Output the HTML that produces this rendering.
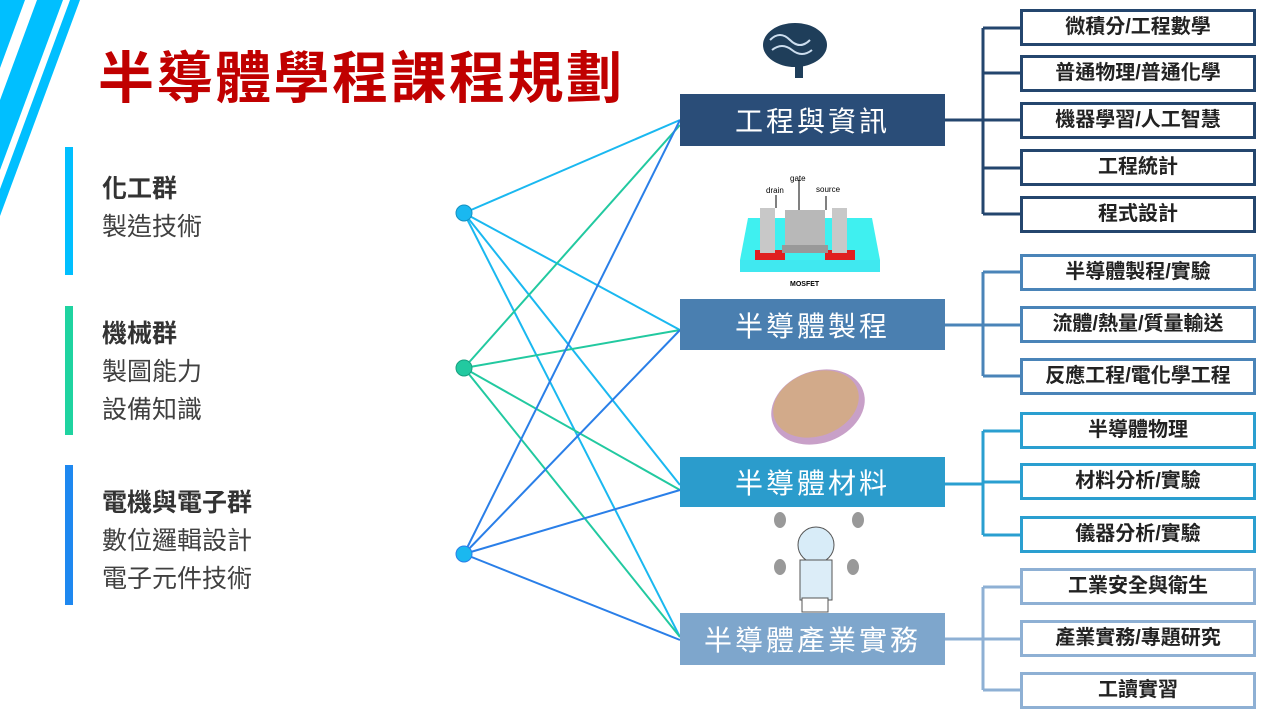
<!DOCTYPE html>
<html><head><meta charset="utf-8"><style>
body{margin:0;width:1280px;height:720px;overflow:hidden;background:#fff;font-family:"Liberation Sans","Noto Sans CJK TC",sans-serif;position:relative}
.t{position:absolute;left:98px;top:46px;font-size:56px;font-weight:bold;color:#c00000;letter-spacing:2.5px;line-height:66px}
.bar{position:absolute;left:65px;width:8px}
.lt{position:absolute;left:102px;font-size:25px;color:#404040;line-height:38px}
.lt b{font-weight:bold;color:#333}
.mb{position:absolute;left:680px;width:265px;color:#fff;font-size:28px;text-align:center;display:flex;align-items:center;justify-content:center;letter-spacing:3px}
.rb{position:absolute;left:1020px;width:230px;height:31px;background:#fff;border:3px solid;font-size:20px;font-weight:bold;color:#222;text-align:center;line-height:31px}
</style></head><body>
<svg width="1280" height="720" style="position:absolute;left:0;top:0">
<polygon points="0,0 25,0 0,68" fill="#00bfff"/>
<polygon points="37,0 63,0 0,170 0,100" fill="#00bfff"/>
<polygon points="70,0 80,0 0,216 0,189" fill="#00bfff"/>
<g stroke-width="2" fill="none">
<g stroke="#1ab8f0"><line x1="464" y1="213" x2="680" y2="120"/><line x1="464" y1="213" x2="680" y2="330"/><line x1="464" y1="213" x2="680" y2="485"/><line x1="464" y1="213" x2="680" y2="637"/></g>
<g stroke="#22c9a0"><line x1="464" y1="368" x2="680" y2="125"/><line x1="464" y1="368" x2="680" y2="330"/><line x1="464" y1="368" x2="680" y2="490"/><line x1="464" y1="368" x2="680" y2="637"/></g>
<g stroke="#2a7fe8"><line x1="464" y1="554" x2="680" y2="120"/><line x1="464" y1="554" x2="680" y2="330"/><line x1="464" y1="554" x2="680" y2="490"/><line x1="464" y1="554" x2="680" y2="640"/></g>
</g>
<circle cx="464" cy="213" r="8" fill="#1ab8f0" stroke="#1590c0"/>
<circle cx="464" cy="368" r="8" fill="#22c9a0" stroke="#18a080"/>
<circle cx="464" cy="554" r="8" fill="#1ab8f0" stroke="#2a7fe8"/>
<g stroke-width="3" fill="none">
<path d="M945 120H983M983 28V214M983 28H1020M983 73H1020M983 120H1020M983 168H1020M983 214H1020" stroke="#24466e"/>
<path d="M945 325H983M983 272V376M983 272H1020M983 325H1020M983 376H1020" stroke="#4a84b8"/>
<path d="M945 484H983M983 431V535M983 431H1020M983 482H1020M983 535H1020" stroke="#2a9fd0"/>
<path d="M945 639H983M983 587V690M983 587H1020M983 639H1020M983 690H1020" stroke="#8eb0d4"/>
</g>
<ellipse cx="795" cy="45" rx="32" ry="22" fill="#1f3e5a"/>
<path d="M770 40q10-10 20 0t20 0M772 50q10-8 20 0t20 0" stroke="#cde" stroke-width="2" fill="none"/>
<rect x="795" y="62" width="8" height="16" fill="#1f3e5a"/>
<polygon points="740,260 748,218 872,218 880,260" fill="#3ff0f0"/>
<rect x="740" y="260" width="140" height="12" fill="#40e8f0"/>
<rect x="755" y="250" width="30" height="10" fill="#e02020"/><rect x="825" y="250" width="30" height="10" fill="#e02020"/>
<rect x="760" y="208" width="15" height="45" fill="#c8c8c8"/><rect x="785" y="210" width="40" height="38" fill="#b8b8b8"/><rect x="782" y="245" width="46" height="8" fill="#999"/><rect x="832" y="208" width="15" height="45" fill="#c8c8c8"/>
<line x1="776" y1="195" x2="776" y2="208" stroke="#000"/><line x1="799" y1="180" x2="799" y2="210" stroke="#000"/><line x1="826" y1="196" x2="826" y2="210" stroke="#000"/>
<text x="766" y="193" font-size="8" font-family="Liberation Sans">drain</text><text x="790" y="181" font-size="8" font-family="Liberation Sans">gate</text><text x="816" y="192" font-size="8" font-family="Liberation Sans">source</text>
<text x="790" y="286" font-size="7" font-family="Liberation Sans" font-weight="bold">MOSFET</text>
<ellipse cx="818" cy="407" rx="48" ry="36" transform="rotate(-20 818 407)" fill="#c8a0c8"/>
<ellipse cx="816" cy="404" rx="44" ry="32" transform="rotate(-20 816 404)" fill="#d8b060" opacity=".6"/>
<ellipse cx="816" cy="545" rx="18" ry="18" fill="#d8ecf8" stroke="#555"/>
<rect x="800" y="560" width="32" height="40" fill="#dcedf8" stroke="#555"/>
<rect x="802" y="598" width="26" height="14" fill="#fff" stroke="#555"/>
<ellipse cx="780" cy="520" rx="6" ry="8" fill="#999"/><ellipse cx="858" cy="520" rx="6" ry="8" fill="#999"/>
<ellipse cx="780" cy="567" rx="6" ry="8" fill="#999"/><ellipse cx="853" cy="567" rx="6" ry="8" fill="#999"/>
</svg>
<div class="t">半導體學程課程規劃</div>
<div class="bar" style="top:147px;height:128px;background:#00bfff"></div>
<div class="bar" style="top:306px;height:129px;background:#1fd3a0"></div>
<div class="bar" style="top:465px;height:140px;background:#1e88f0"></div>
<div class="lt" style="top:170px"><b>化工群</b><br>製造技術</div>
<div class="lt" style="top:315px"><b>機械群</b><br>製圖能力<br>設備知識</div>
<div class="lt" style="top:484px"><b>電機與電子群</b><br>數位邏輯設計<br>電子元件技術</div>
<div class="mb" style="top:94px;height:52px;background:#2a4d78">工程與資訊</div>
<div class="mb" style="top:299px;height:51px;background:#4a7fb0">半導體製程</div>
<div class="mb" style="top:457px;height:50px;background:#2b9ccc">半導體材料</div>
<div class="mb" style="top:613px;height:52px;background:#7ea6cc">半導體產業實務</div>
<div class="rb" style="top:9px;border-color:#24466e">微積分/工程數學</div>
<div class="rb" style="top:55px;border-color:#24466e">普通物理/普通化學</div>
<div class="rb" style="top:102px;border-color:#24466e">機器學習/人工智慧</div>
<div class="rb" style="top:149px;border-color:#24466e">工程統計</div>
<div class="rb" style="top:196px;border-color:#24466e">程式設計</div>
<div class="rb" style="top:254px;border-color:#4a84b8">半導體製程/實驗</div>
<div class="rb" style="top:306px;border-color:#4a84b8">流體/熱量/質量輸送</div>
<div class="rb" style="top:358px;border-color:#4a84b8">反應工程/電化學工程</div>
<div class="rb" style="top:412px;border-color:#2a9fd0">半導體物理</div>
<div class="rb" style="top:463px;border-color:#2a9fd0">材料分析/實驗</div>
<div class="rb" style="top:516px;border-color:#2a9fd0">儀器分析/實驗</div>
<div class="rb" style="top:568px;border-color:#8eb0d4">工業安全與衛生</div>
<div class="rb" style="top:620px;border-color:#8eb0d4">產業實務/專題研究</div>
<div class="rb" style="top:672px;border-color:#8eb0d4">工讀實習</div>
</body></html>
